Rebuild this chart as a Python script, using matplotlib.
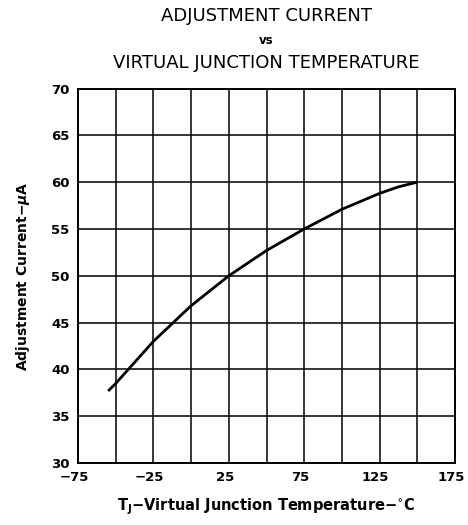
import matplotlib
matplotlib.use("Agg")
import matplotlib.pyplot as plt
from matplotlib.transforms import ScaledTranslation

plt.rcParams['font.family'] = ['DejaVu Sans']
plt.rcParams['mathtext.fontset'] = 'custom'
plt.rcParams['mathtext.rm'] = 'DejaVu Sans:bold'
plt.rcParams['mathtext.it'] = 'DejaVu Sans:bold:italic'
plt.rcParams['mathtext.bf'] = 'DejaVu Sans:bold'

# curve
temp_c = [-55, -50, -25, 0, 25, 50, 75, 100, 125, 137.5, 150]
adj_current_ua = [37.7, 38.5, 43.0, 46.8, 50.0, 52.7, 55.0, 57.1, 58.8, 59.5, 60.0]

x_ticks = [-75, -50, -25, 0, 25, 50, 75, 100, 125, 150, 175]
x_labels = ['\u221275', '', '\u221225', '', '25', '', '75', '', '125', '', '175']
y_ticks = [30, 35, 40, 45, 50, 55, 60, 65, 70]

fig = plt.figure(figsize=(4.68, 5.25), dpi=100)
ax = fig.add_axes([0.1667, 0.118, 0.8055, 0.7134])

ax.plot(temp_c, adj_current_ua, color='black', lw=2.0, solid_capstyle='butt', zorder=3)

ax.set_xlim(-75, 175)
ax.set_ylim(30, 70)
ax.set_xticks(x_ticks)
ax.set_xticklabels(x_labels)
ax.set_yticks(y_ticks)
ax.tick_params(length=0, labelsize=9.5, pad=6)
shift = ScaledTranslation(-4 / 100, 0, fig.dpi_scale_trans)
for lab in ax.get_xticklabels():
    lab.set_fontweight('bold')
    lab.set_transform(lab.get_transform() + shift)
for lab in ax.get_yticklabels():
    lab.set_fontweight('bold')

ax.grid(True, color='black', lw=1.1)
for s in ax.spines.values():
    s.set_linewidth(1.4)
    s.set_color('black')

ax.set_xlabel('T$_{\\mathrm{J}}$\u2212Virtual Junction Temperature\u2212$^{\\circ}$C',
              fontsize=10.5, fontweight='bold', labelpad=9)
ax.set_ylabel('Adjustment Current\u2212$\\mathit{\\mu}$A', fontsize=10,
              fontweight='bold', labelpad=14)

xc = 0.1667 + 0.8055 / 2
fig.text(xc, 1 - 16 / 525, 'ADJUSTMENT CURRENT', ha='center', va='center', fontsize=13)
fig.text(xc, 1 - 40 / 525, 'vs', ha='center', va='center', fontsize=8.5, fontweight='bold')
fig.text(xc, 1 - 63 / 525, 'VIRTUAL JUNCTION TEMPERATURE', ha='center', va='center', fontsize=13)

fig.savefig('out.png', dpi=100)
